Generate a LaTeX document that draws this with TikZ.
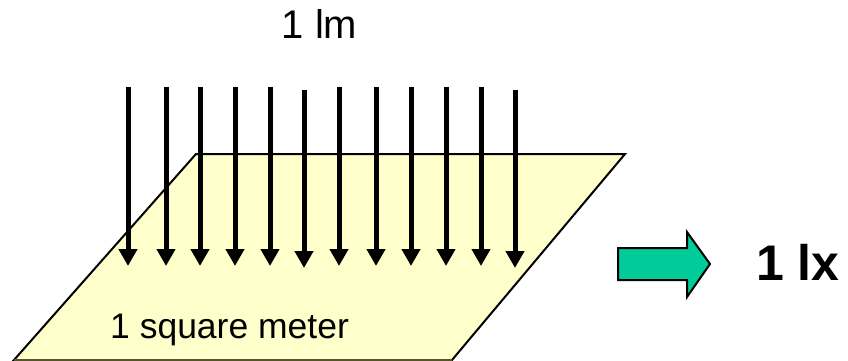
\documentclass[tikz,border=0pt]{standalone}
\usepackage{fontspec}
\setmainfont{Liberation Sans}
\usetikzlibrary{arrows.meta}
\definecolor{plane}{HTML}{FFFFCC}
\definecolor{fat}{HTML}{00CC99}
\tikzset{
  ray/.style={line width=5pt,-{Triangle[width=18pt,length=17pt]}},
  plab/.style={inner sep=0pt},
}
\begin{document}
\begin{tikzpicture}[x=1pt,y=-1pt]
\useasboundingbox (0,0) rectangle (848,361);
% plane
\filldraw[fill=plane,draw=black,line width=2pt] (196,154) -- (625,154) -- (452,360) -- (14,360) -- cycle;
\draw[draw=black!50!olive,line width=1.5pt] (14,360) -- (452,360);
% rays
\foreach \i/\x/\t/\b in {1/128/87/266,2/166/87/266,3/200/87/266,4/235/87/266,5/270/87/266,6/304/90/268,7/339/87/266,8/376/87/266,9/411/87/266,10/446/87/266,11/481/87/266,12/515/90/268}{
  \coordinate (s\i) at (\x,\t);
  \coordinate (e\i) at (\x,\b);
  \draw[ray] (s\i) -- (e\i);
}
\node[plab,anchor=base,font=\fontsize{40}{44}\selectfont] (lm) at (319.5,38) {1 lm};
\node[plab,anchor=base west,font=\fontsize{35.5}{40}\selectfont] (sq) at (110,338) {1 square meter};
% fat arrow
\filldraw[fill=fat,draw=black,line width=2pt,line join=miter]
  (618,248) -- (687,248) -- (687,232) -- (710,264) -- (687,297) -- (687,280) -- (618,280) -- cycle;
\node[inner sep=0pt,anchor=base west,font=\fontsize{50}{54}\selectfont\bfseries] (lx) at (756,280) {1 lx};
\end{tikzpicture}
\end{document}
